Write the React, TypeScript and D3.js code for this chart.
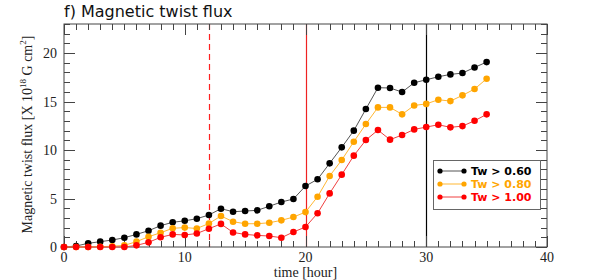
import React, { useEffect, useRef } from 'react'
import * as d3 from 'd3'

// hours 0..35
const hours = d3.range(0, 36)
const tw060 = [0, 0.1, 0.38, 0.55, 0.72, 0.96, 1.3, 1.68, 2.2, 2.55, 2.7, 2.92, 3.3, 3.95, 3.64, 3.71, 3.78, 4.2, 4.64, 4.95, 6.29, 6.98, 8.63, 10.28, 12.0, 14.23, 16.43, 16.4, 15.98, 16.94, 17.25, 17.56, 17.8, 17.94, 18.52, 19.07]
const tw080 = [0, 0, 0, 0.03, 0.08, 0.17, 0.55, 1.06, 1.47, 1.93, 2.0, 1.91, 2.42, 3.2, 2.61, 2.4, 2.4, 2.5, 2.75, 3.09, 3.6, 5.19, 7.32, 8.97, 10.86, 12.68, 14.4, 14.4, 13.68, 14.6, 14.76, 15.19, 15.05, 15.64, 16.29, 17.35]
const tw100 = [0, 0, 0, 0, 0, 0, 0.17, 0.48, 1.0, 1.3, 1.24, 1.39, 1.89, 2.38, 1.5, 1.3, 1.2, 1.13, 0.96, 1.55, 2.06, 3.48, 5.53, 7.46, 9.42, 11.03, 12.06, 11.07, 11.55, 12.13, 12.37, 12.61, 12.34, 12.47, 13.02, 13.68]
const seriesNames = ['Tw > 0.60', 'Tw > 0.80', 'Tw > 1.00']
const xTicks = [0, 10, 20, 30, 40]
const yTicks = [0, 5, 10, 15, 20]
// event markers [hour, style]
const markers = [
    { t: 12, color: '#ff2020', dash: '6,4' },
    { t: 20, color: '#ee2222', dash: null },
    { t: 30, color: '#000', dash: null },
]

const W = 598
const H = 280
const m = { left: 64, right: 51, top: 24, bottom: 33 }

export default function App() {
    const ref = useRef<SVGSVGElement>(null)

    useEffect(() => {
        const svg = d3.select(ref.current)
        svg.selectAll('*').remove()

        const x = d3.scaleLinear().domain([0, 40]).range([m.left, W - m.right])
        const y = d3.scaleLinear().domain([0, 23]).range([H - m.bottom, m.top])
        const x0 = x(0), x1 = x(40), y0 = y(0), y1 = y(23)
        const axisCol = '#444'
        const px = (v: number) => Math.round(v) + 0.5

        // markers
        markers.forEach(mk => {
            svg.append('line')
                .attr('x1', px(x(mk.t))).attr('x2', px(x(mk.t)))
                .attr('y1', y1).attr('y2', y0)
                .attr('stroke', mk.color).attr('stroke-width', 1.2)
                .attr('stroke-dasharray', mk.dash)
        })

        // ticks
        const g = svg.append('g').attr('stroke', axisCol).attr('stroke-width', 1)
        d3.range(0, 41).forEach(t => {
            const len = t % 10 === 0 ? 11 : 6
            g.append('line').attr('x1', px(x(t))).attr('x2', px(x(t))).attr('y1', y0).attr('y2', y0 - len)
            g.append('line').attr('x1', px(x(t))).attr('x2', px(x(t))).attr('y1', y1).attr('y2', y1 + len)
        })
        d3.range(0, 24).forEach(v => {
            const len = v % 5 === 0 ? 11 : 6
            g.append('line').attr('x1', x0).attr('x2', x0 + len).attr('y1', px(y(v))).attr('y2', px(y(v)))
            g.append('line').attr('x1', x1).attr('x2', x1 - len).attr('y1', px(y(v))).attr('y2', px(y(v)))
        })
        svg.append('rect')
            .attr('x', x0).attr('y', y1).attr('width', x1 - x0).attr('height', y0 - y1)
            .attr('fill', 'none').attr('stroke', axisCol).attr('stroke-width', 1)

        const serif = "'Liberation Serif', 'DejaVu Serif', serif"
        svg.append('g').selectAll('text').data(xTicks).enter().append('text')
            .attr('x', d => x(d)).attr('y', y0 + 15)
            .attr('text-anchor', 'middle')
            .attr('font-family', serif).attr('font-size', 14).attr('fill', '#222')
            .text(d => d)
        svg.append('g').selectAll('text').data(yTicks).enter().append('text')
            .attr('x', x0 - 7).attr('y', d => y(d) + 5)
            .attr('text-anchor', 'end')
            .attr('font-family', serif).attr('font-size', 14).attr('fill', '#222')
            .text(d => d)

        svg.append('text')
            .attr('x', (x0 + x1) / 2).attr('y', 277)
            .attr('text-anchor', 'middle')
            .attr('font-family', serif).attr('font-size', 14).attr('fill', '#222')
            .text('time [hour]')

        const yl = svg.append('text')
            .attr('transform', `translate(32,${(y0 + y1) / 2 - 1}) rotate(-90)`)
            .attr('text-anchor', 'middle')
            .attr('font-family', serif).attr('font-size', 14).attr('fill', '#222')
        yl.append('tspan').text('Magnetic twist flux [X 10')
        yl.append('tspan').attr('dy', -6).attr('font-size', 9).text('18')
        yl.append('tspan').attr('dy', 6).text(' G cm')
        yl.append('tspan').attr('dy', -6).attr('font-size', 9).text('2')
        yl.append('tspan').attr('dy', 6).text(']')

        svg.append('text')
            .attr('x', x0).attr('y', 17)
            .attr('font-family', "'DejaVu Sans', sans-serif").attr('font-size', 16).attr('fill', '#111')
            .text('f) Magnetic twist flux')

        // series
        const series = [
            { vals: tw060, dot: '#000', line: '#555' },
            { vals: tw080, dot: '#ffa500', line: '#ffb733' },
            { vals: tw100, dot: '#ff0000', line: '#f04040' },
        ]
        const lineGen = d3.line<number>().x((d, i) => x(hours[i])).y(d => y(d))
        series.forEach(s => {
            svg.append('path').attr('d', lineGen(s.vals))
                .attr('fill', 'none').attr('stroke', s.line).attr('stroke-width', 1)
            svg.append('g').selectAll('circle').data(s.vals).enter().append('circle')
                .attr('cx', (d, i) => x(hours[i])).attr('cy', d => y(d))
                .attr('r', 3.3).attr('fill', s.dot)
        })

        // legend
        const lg = svg.append('g')
        lg.append('rect').attr('x', 433.5).attr('y', 160.5).attr('width', 107).attr('height', 49)
            .attr('fill', '#fff').attr('stroke', '#666').attr('stroke-width', 1)
        series.forEach((s, i) => {
            const ly = 171 + i * 13
            lg.append('line').attr('x1', 440).attr('x2', 464).attr('y1', ly).attr('y2', ly)
                .attr('stroke', s.line).attr('stroke-width', 1)
            lg.append('circle').attr('cx', 440).attr('cy', ly).attr('r', 2.6).attr('fill', s.dot)
            lg.append('circle').attr('cx', 464).attr('cy', ly).attr('r', 2.6).attr('fill', s.dot)
            lg.append('text').attr('x', 471).attr('y', ly + 4)
                .attr('font-family', "'DejaVu Sans', sans-serif").attr('font-weight', 'bold')
                .attr('font-size', 11).attr('fill', s.dot)
                .text(seriesNames[i])
        })
    }, [])

    return (
        <svg ref={ref} width={W} height={H} style={{ position: 'absolute', left: 0, top: 0, background: '#fff' }} />
    )
}
